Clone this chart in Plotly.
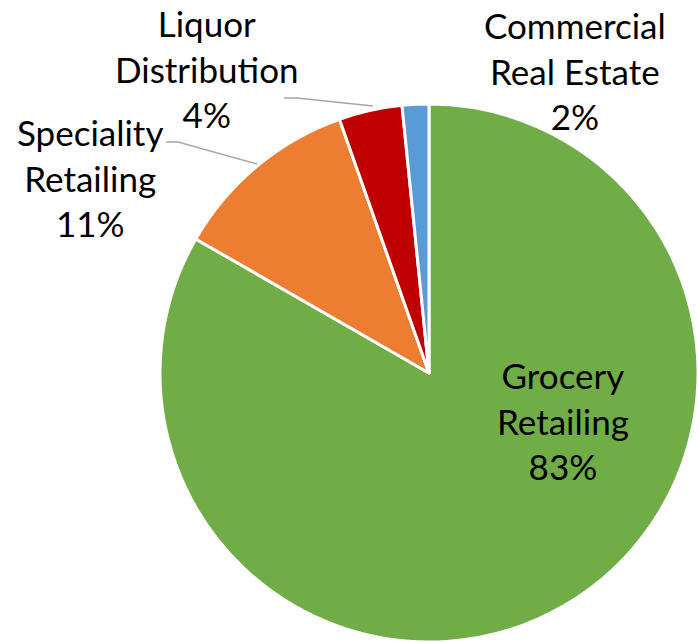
import plotly.graph_objects as go

labels = ["Grocery Retailing", "Speciality Retailing", "Liquor Distribution", "Commercial Real Estate"]
values = [83.3, 11.3, 3.8, 1.6]
colors = ["#70AD47", "#ED7D31", "#C00000", "#5B9BD5"]
label_text = ["Grocery<br>Retailing", "Speciality<br>Retailing", "Liquor<br>Distribution", "Commercial<br>Real Estate"]

W, H = 698, 642
FONT = "Lato, 'Noto Sans', sans-serif"

fig = go.Figure(go.Pie(
    labels=labels,
    values=values,
    sort=False,
    direction="clockwise",
    rotation=0,
    marker=dict(colors=colors, line=dict(color="white", width=3)),
    textinfo="none",
    hoverinfo="label+percent",
    domain=dict(x=[160 / W, 1.0], y=[0.0, 538 / H]),
    showlegend=False,
))

total = sum(values)
pcts = [f"{round(v / total * 100):d}%" for v in values]

# label anchor positions (pixels)
pos = [(563, 420), (90, 178), (207, 68), (575, 70)]
for (px, py), t, p in zip(pos, label_text, pcts):
    fig.add_annotation(
        x=px / W, y=1 - py / H, xref="paper", yref="paper",
        text=f"{t}<br>{p}", showarrow=False,
        font=dict(family=FONT, size=35, color="#000000"),
        align="center", xanchor="center", yanchor="middle",
    )

# leader lines
def leader(points):
    path = "M " + " L ".join(f"{x / W},{1 - y / H}" for x, y in points)
    fig.add_shape(type="path", path=path, xref="paper", yref="paper",
                  line=dict(color="#A6A6A6", width=1.5))

leader([(166, 142), (178, 142), (257, 164)])
leader([(284, 98), (297, 98), (373, 106)])

fig.update_layout(
    width=W, height=H,
    margin=dict(l=0, r=0, t=0, b=0),
    paper_bgcolor="white",
    plot_bgcolor="white",
)

fig.write_html("out.html")
